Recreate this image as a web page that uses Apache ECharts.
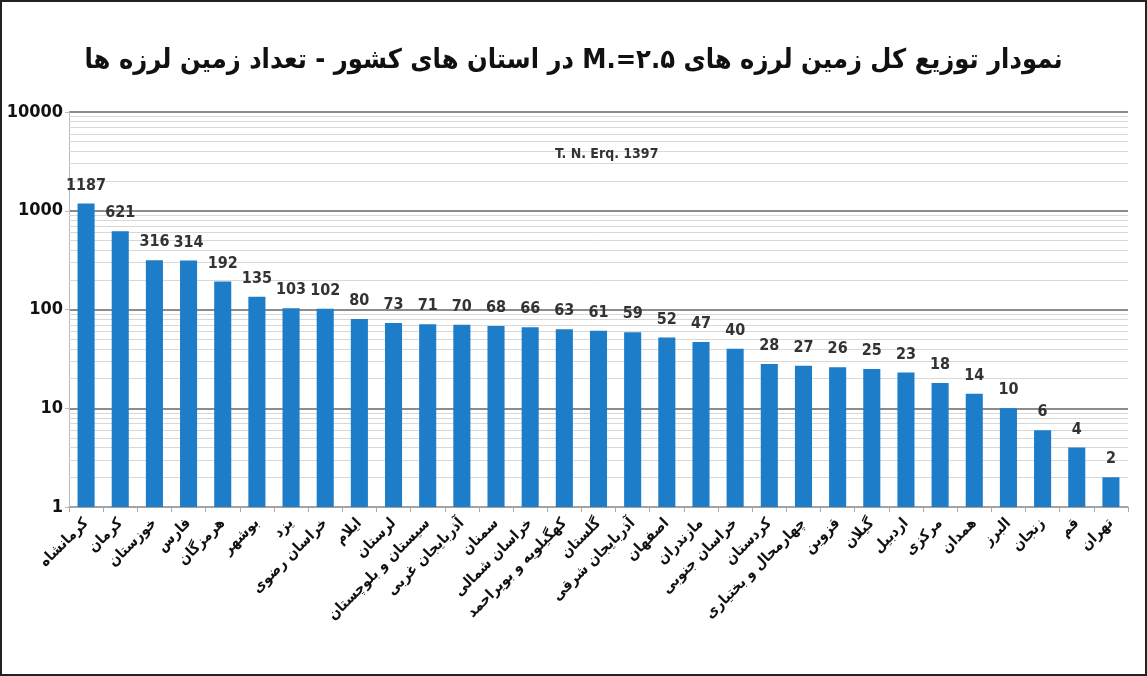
<!DOCTYPE html>
<html>
<head>
<meta charset="utf-8">
<script src="https://cdn.jsdelivr.net/npm/echarts@6/dist/echarts.min.js"></script>
<style>
  html, body { margin: 0; padding: 0; background: #fff; }
  #wrap { width: 1147px; height: 676px; box-sizing: border-box; border: 2px solid #222; }
  #chart { width: 100%; height: 100%; }
</style>
</head>
<body>
<div id="wrap"><div id="chart"></div></div>
<script>
// استان ها (به ترتیب نمودار)
var provinces = ['کرمانشاه', 'کرمان', 'خوزستان', 'فارس', 'هرمزگان', 'بوشهر', 'یزد', 'خراسان رضوی',
  'ایلام', 'لرستان', 'سیستان و بلوچستان', 'آذربایجان غربی', 'سمنان', 'خراسان شمالی',
  'کهگیلویه و بویراحمد', 'گلستان', 'آذربایجان شرقی', 'اصفهان', 'مازندران', 'خراسان جنوبی',
  'کردستان', 'چهارمحال و بختیاری', 'قزوین', 'گیلان', 'اردبیل', 'مرکزی', 'همدان', 'البرز',
  'زنجان', 'قم', 'تهران'];
// تعداد زمین لرزه ها
var quakeCount = [1187, 621, 316, 314, 192, 135, 103, 102, 80, 73, 71, 70, 68, 66, 63, 61, 59,
  52, 47, 40, 28, 27, 26, 25, 23, 18, 14, 10, 6, 4, 2];
// خطوط راهنمای فرعی محور لگاریتمی
var decades = [1, 10, 100, 1000];
var minorSteps = [2, 3, 4, 5, 6, 7, 8, 9];

var chartTitle = 'نمودار توزیع کل زمین لرزه های M.=۲.۵ در استان های کشور - تعداد زمین لرزه ها';
var subTitle = 'T. N. Erq. 1397';

var numFont = "'Liberation Sans Narrow', 'DejaVu Sans Condensed', 'Roboto', sans-serif";
var faFont = "'DejaVu Sans Condensed', 'DejaVu Sans', sans-serif";

var minorLines = [];
decades.forEach(function (d) {
  minorSteps.forEach(function (s) { minorLines.push({ yAxis: d * s }); });
});

var myChart = echarts.init(document.getElementById('chart'));
myChart.setOption({
  backgroundColor: '#fff',
  animation: false,
  title: [
    {
      // RLE ... PDF so the title is laid out right-to-left
      text: '\u202B' + chartTitle + '\u202C',
      left: 'center',
      top: 40,
      textStyle: { fontFamily: faFont, fontWeight: 'bold', fontSize: 27, color: '#111' }
    },
    {
      text: subTitle,
      left: 548,
      top: 140,
      textStyle: { fontFamily: numFont, fontWeight: 'bold', fontSize: 14, color: '#333' }
    }
  ],
  grid: { left: 67, right: 17, top: 110, bottom: 167 },
  xAxis: {
    type: 'category',
    data: provinces,
    axisLine: { lineStyle: { color: '#aaa', width: 1.5 } },
    axisTick: { show: true, length: 5, lineStyle: { color: '#aaa' } },
    axisLabel: {
      interval: 0,
      rotate: 45,
      margin: 14,
      fontFamily: faFont,
      fontWeight: 'bold',
      fontSize: 15,
      color: '#111'
    }
  },
  yAxis: {
    type: 'log',
    logBase: 10,
    min: 1,
    max: 10000,
    axisLine: { show: true, lineStyle: { color: '#bbb' } },
    axisTick: { show: true, length: 4, lineStyle: { color: '#bbb' } },
    axisLabel: {
      formatter: function (v) { return String(v); },
      fontFamily: numFont,
      fontWeight: 'bold',
      fontSize: 18,
      color: '#111',
      margin: 6
    },
    splitLine: { show: true, lineStyle: { color: '#8c8c8c', width: 2 } }
  },
  series: [
    {
      type: 'bar',
      data: quakeCount,
      barWidth: '50%',
      itemStyle: { color: '#1e7dc8' },
      label: {
        show: true,
        position: 'top',
        distance: 10,
        fontFamily: numFont,
        fontWeight: 'bold',
        fontSize: 16,
        color: '#333'
      },
      markLine: {
        silent: true,
        symbol: 'none',
        label: { show: false },
        lineStyle: { color: '#d8d8d8', width: 1, type: 'solid' },
        z: 1,
        data: minorLines
      },
      z: 3
    }
  ]
});
window.addEventListener('resize', function () { myChart.resize(); });
</script>
</body>
</html>
